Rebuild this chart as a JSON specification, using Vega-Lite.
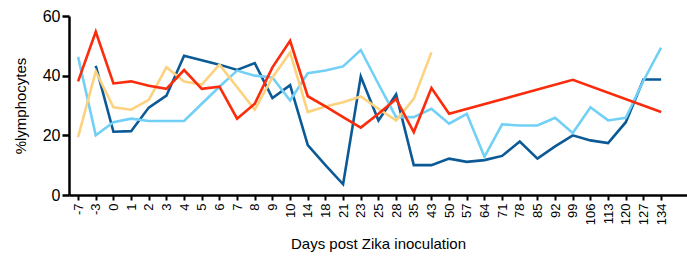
{
  "$schema": "https://vega.github.io/schema/vega-lite/v6.json",
  "width": 618,
  "height": 179,
  "autosize": {"type": "none"},
  "padding": {"left": 69, "top": 16, "right": 0, "bottom": 62},
  "background": "white",
  "config": {"view": {"stroke": null}, "font": "Liberation Sans"},
  "datasets": {
    "d": [
      {"day": "-3", "s": "A", "v": 43.3}, {"day": "0", "s": "A", "v": 21.2}, {"day": "1", "s": "A", "v": 21.4}, {"day": "2", "s": "A", "v": 29.3}, {"day": "3", "s": "A", "v": 33.3}, {"day": "4", "s": "A", "v": 46.7}, {"day": "5", "s": "A", "v": 45.2}, {"day": "6", "s": "A", "v": 43.7}, {"day": "7", "s": "A", "v": 41.9}, {"day": "8", "s": "A", "v": 44.2}, {"day": "9", "s": "A", "v": 32.5}, {"day": "10", "s": "A", "v": 36.8}, {"day": "14", "s": "A", "v": 16.7}, {"day": "18", "s": "A", "v": 10.0}, {"day": "21", "s": "A", "v": 3.6}, {"day": "23", "s": "A", "v": 39.7}, {"day": "25", "s": "A", "v": 25.0}, {"day": "28", "s": "A", "v": 33.7}, {"day": "35", "s": "A", "v": 10.0}, {"day": "43", "s": "A", "v": 10.0}, {"day": "50", "s": "A", "v": 12.2}, {"day": "57", "s": "A", "v": 11.1}, {"day": "64", "s": "A", "v": 11.7}, {"day": "71", "s": "A", "v": 13.1}, {"day": "78", "s": "A", "v": 17.9}, {"day": "85", "s": "A", "v": 12.2}, {"day": "92", "s": "A", "v": 16.3}, {"day": "99", "s": "A", "v": 20.0}, {"day": "106", "s": "A", "v": 18.3}, {"day": "113", "s": "A", "v": 17.4}, {"day": "120", "s": "A", "v": 24.4}, {"day": "127", "s": "A", "v": 38.7}, {"day": "134", "s": "A", "v": 38.7},
      {"day": "-7", "s": "B", "v": 46.3}, {"day": "-3", "s": "B", "v": 20.0}, {"day": "0", "s": "B", "v": 24.4}, {"day": "1", "s": "B", "v": 25.6}, {"day": "2", "s": "B", "v": 24.8}, {"day": "3", "s": "B", "v": 24.8}, {"day": "4", "s": "B", "v": 24.8}, {"day": "5", "s": "B", "v": 30.6}, {"day": "6", "s": "B", "v": 36.3}, {"day": "7", "s": "B", "v": 41.7}, {"day": "8", "s": "B", "v": 40.0}, {"day": "9", "s": "B", "v": 39.4}, {"day": "10", "s": "B", "v": 31.7}, {"day": "14", "s": "B", "v": 40.8}, {"day": "18", "s": "B", "v": 41.7}, {"day": "21", "s": "B", "v": 43.1}, {"day": "23", "s": "B", "v": 48.6}, {"day": "25", "s": "B", "v": 37.2}, {"day": "28", "s": "B", "v": 26.1}, {"day": "35", "s": "B", "v": 26.1}, {"day": "43", "s": "B", "v": 28.9}, {"day": "50", "s": "B", "v": 23.9}, {"day": "57", "s": "B", "v": 27.2}, {"day": "64", "s": "B", "v": 12.8}, {"day": "71", "s": "B", "v": 23.7}, {"day": "78", "s": "B", "v": 23.3}, {"day": "85", "s": "B", "v": 23.3}, {"day": "92", "s": "B", "v": 25.9}, {"day": "99", "s": "B", "v": 20.8}, {"day": "106", "s": "B", "v": 29.4}, {"day": "113", "s": "B", "v": 25.0}, {"day": "120", "s": "B", "v": 25.9}, {"day": "127", "s": "B", "v": 38.3}, {"day": "134", "s": "B", "v": 49.4},
      {"day": "-7", "s": "C", "v": 19.4}, {"day": "-3", "s": "C", "v": 41.4}, {"day": "0", "s": "C", "v": 29.4}, {"day": "1", "s": "C", "v": 28.6}, {"day": "2", "s": "C", "v": 31.9}, {"day": "3", "s": "C", "v": 42.8}, {"day": "4", "s": "C", "v": 38.0}, {"day": "5", "s": "C", "v": 37.0}, {"day": "6", "s": "C", "v": 43.7}, {"day": "7", "s": "C", "v": 36.1}, {"day": "8", "s": "C", "v": 28.6}, {"day": "9", "s": "C", "v": 39.4}, {"day": "10", "s": "C", "v": 47.8}, {"day": "14", "s": "C", "v": 27.8}, {"day": "18", "s": "C", "v": 29.7}, {"day": "21", "s": "C", "v": 31.1}, {"day": "23", "s": "C", "v": 33.0}, {"day": "25", "s": "C", "v": 28.9}, {"day": "28", "s": "C", "v": 25.0}, {"day": "35", "s": "C", "v": 32.2}, {"day": "43", "s": "C", "v": 47.8},
      {"day": "-7", "s": "D", "v": 38.1}, {"day": "-3", "s": "D", "v": 54.7}, {"day": "0", "s": "D", "v": 37.4}, {"day": "1", "s": "D", "v": 38.1}, {"day": "2", "s": "D", "v": 36.6}, {"day": "3", "s": "D", "v": 35.6}, {"day": "4", "s": "D", "v": 41.9}, {"day": "5", "s": "D", "v": 35.6}, {"day": "6", "s": "D", "v": 36.3}, {"day": "7", "s": "D", "v": 25.6}, {"day": "8", "s": "D", "v": 30.6}, {"day": "9", "s": "D", "v": 42.8}, {"day": "10", "s": "D", "v": 51.7}, {"day": "14", "s": "D", "v": 33.1}, {"day": "18", "s": "D", "v": 29.7}, {"day": "21", "s": "D", "v": 26.1}, {"day": "23", "s": "D", "v": 22.6}, {"day": "25", "s": "D", "v": 27.2}, {"day": "28", "s": "D", "v": 32.2}, {"day": "35", "s": "D", "v": 21.1}, {"day": "43", "s": "D", "v": 35.9}, {"day": "50", "s": "D", "v": 27.2}, {"day": "99", "s": "D", "v": 38.6}, {"day": "134", "s": "D", "v": 27.8}
    ]
  },
  "data": {"name": "d"},
  "mark": {"type": "line", "strokeWidth": 2.6, "strokeJoin": "miter", "clip": false},
  "encoding": {
    "x": {
      "field": "day", "type": "ordinal",
      "scale": {"type": "point", "domain": ["-7","-3","0","1","2","3","4","5","6","7","8","9","10","14","18","21","23","25","28","35","43","50","57","64","71","78","85","92","99","106","113","120","127","134"], "padding": 0.99, "align": 0.26},
      "axis": {"title": "Days post Zika inoculation", "titleFont": "Liberation Sans", "titleFontSize": 15, "titleFontWeight": "normal", "titleColor": "black", "titlePadding": 12, "labelAngle": -90, "labelFontSize": 13, "labelColor": "black", "labelPadding": 3, "tickSize": 5, "tickWidth": 2, "tickColor": "black", "domainColor": "black", "domainWidth": 2.5, "grid": false}
    },
    "y": {
      "field": "v", "type": "quantitative",
      "scale": {"domain": [0, 60], "nice": false},
      "axis": {"title": "%lymphocytes", "values": [0, 20, 40, 60], "titleFont": "Liberation Sans", "titleFontSize": 15, "titleFontWeight": "normal", "titleColor": "black", "titlePadding": 14, "labelFontSize": 16, "labelColor": "black", "labelPadding": 2, "tickSize": 7, "tickWidth": 2.5, "tickColor": "black", "domainColor": "black", "domainWidth": 2.5, "grid": false}
    },
    "color": {"field": "s", "type": "nominal", "scale": {"domain": ["A", "B", "C", "D"], "range": ["#0b5a96", "#72d0f6", "#fdd27e", "#fb2c0c"]}, "legend": null},
    "order": {"field": "s"}
  }
}
